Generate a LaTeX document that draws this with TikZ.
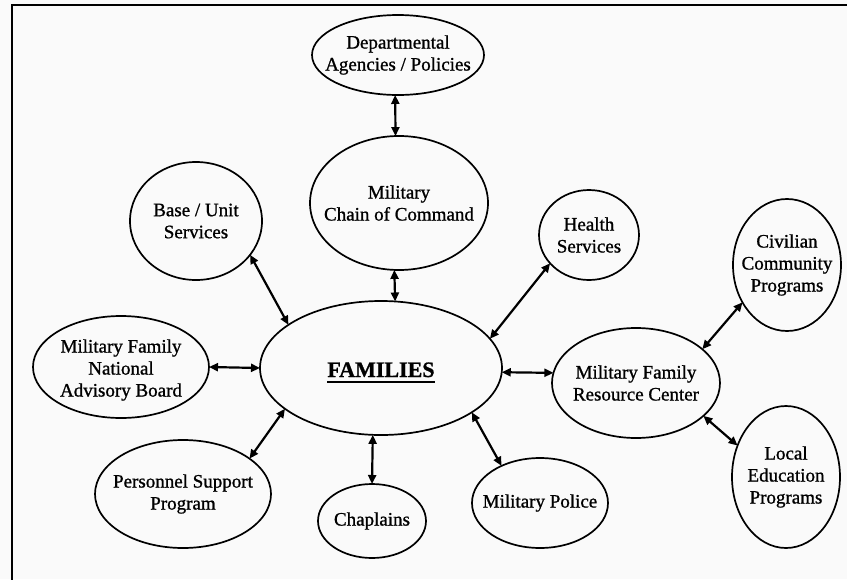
\documentclass[tikz,border=0pt]{standalone}
\usepackage{fontspec}
\setmainfont{Liberation Serif}[FakeBold=1]
\newfontfamily\famfont{Liberation Serif}[Scale=1]
\usetikzlibrary{shapes.geometric,arrows.meta}
\definecolor{bg}{RGB}{250,250,250}
\begin{document}
\begin{tikzpicture}[x=1pt,y=-1pt,
  bub/.style={ellipse,draw,line width=1.7pt,inner sep=0pt,outer sep=0pt},
  lbl/.style={align=center,inner sep=0pt,font=\fontsize{19}{22}\selectfont},
  link/.style={line width=2.2pt,{Triangle[length=9pt,width=8pt]}-{Triangle[length=9pt,width=8pt]}},
]
\fill[bg] (0,0) rectangle (847,579);
\useasboundingbox (0,0) rectangle (847,579);
\draw[line width=2.2pt] (12,580) -- (12,5) -- (848,5);

% ellipses
\node[bub,minimum width=172pt,minimum height=80pt]  (dept)  at (398,55)  {};
\node[bub,minimum width=178pt,minimum height=134pt] (chain) at (399,203) {};
\node[bub,minimum width=242pt,minimum height=134pt] (fam)   at (381,368) {};
\node[bub,minimum width=132pt,minimum height=118pt] (base)  at (196,221) {};
\node[bub,minimum width=100pt,minimum height=90pt]  (health) at (589,235) {};
\node[bub,minimum width=108pt,minimum height=132pt] (civ)   at (787,265) {};
\node[bub,minimum width=176pt,minimum height=102pt] (nab)   at (121,367) {};
\node[bub,minimum width=176pt,minimum height=108pt] (psp)   at (183,494) {};
\node[bub,minimum width=108pt,minimum height=74pt]  (chap)  at (372,521) {};
\node[bub,minimum width=136pt,minimum height=90pt]  (mp)    at (540,503) {};
\node[bub,minimum width=168pt,minimum height=110pt] (mfrc)  at (636,383) {};
\node[bub,minimum width=108pt,minimum height=142pt] (lep)   at (786,477) {};

% texts
\node[lbl] (dept-t)   at (dept)   {Departmental\\Agencies / Policies};
\node[lbl] (chain-t)  at (chain)  {Military\\Chain of Command};
\node[lbl,font=\fontsize{22}{24}\selectfont\bfseries,anchor=base] (fam-t) at (381,377) {FAMILIES};
\draw[line width=1.8pt] ([yshift=-5pt]fam-t.base west) -- ([yshift=-5pt]fam-t.base east);
\node[lbl] (base-t)   at (base)   {Base / Unit\\Services};
\node[lbl] (health-t) at (health) {Health\\Services};
\node[lbl] (civ-t)    at (civ)    {Civilian\\Community\\Programs};
\node[lbl] (nab-t)    at (121,370) {Military Family\\National\\Advisory Board};
\node[lbl] (psp-t)    at (psp)    {Personnel Support\\Program};
\node[lbl] (chap-t)   at (chap)   {Chaplains};
\node[lbl] (mp-t)     at (mp)     {Military Police};
\node[lbl] (mfrc-t)   at (mfrc)   {Military Family\\Resource Center};
\node[lbl] (lep-t)    at (lep)    {Local\\Education\\Programs};

% connectors
\draw[link] (dept.-94) -- (chain.93);
\draw[link] (chain.-94) -- (fam.78);
\draw[link] (base.-32.4) -- (fam.155.2);
\draw[link] (nab.east) -- (fam.west);
\draw[link] (psp.28.9) -- (fam.203.2);
\draw[link] (chap.north) -- (fam.-97.7);
\draw[link] (mp.136.5) -- (fam.-26.8);
\draw[link] (fam.-2.4) -- (mfrc.173.1);
\draw[link] (fam.15.5) -- (health.216.1);
\draw[link] (mfrc.27.6) -- (civ.220.8);
\draw[link] (mfrc.-26.9) -- (lep.147.8);
\end{tikzpicture}
\end{document}
